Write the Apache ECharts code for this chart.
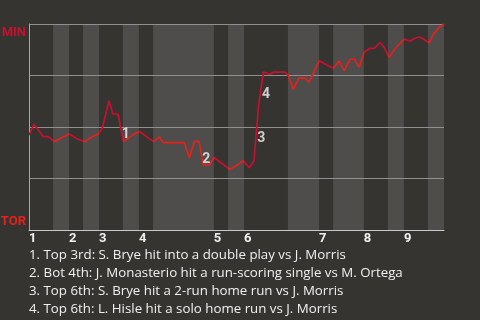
<!DOCTYPE html>
<html>
<head>
<meta charset="utf-8">
<script src="https://cdn.jsdelivr.net/npm/echarts@6/dist/echarts.min.js"></script>
<style>
  html, body { margin: 0; padding: 0; background: #363430; }
  #chart { width: 480px; height: 320px; }
</style>
</head>
<body>
<div id="chart"></div>
<script>
// Where each half-inning begins, in plays from the first pitch (top 1st, bot 1st, ... bot 9th)
const halfInningStarts = [0, 5.1, 8.5, 11.45, 14.85, 19.9, 23.3, 26.3, 39.2, 42.2, 45.6, 54.9, 61.5, 64.5, 71.0, 76.1, 79.5, 84.6];
const gameEnd = 88;
const inningLabels = ['1', '2', '3', '4', '5', '6', '7', '8', '9'];

// Minnesota win probability (%) after each play
const playX = [0, 1.06, 3.03, 4.13, 5.36, 6.93, 8.59, 10.1, 11.77, 13.3, 14.63, 15.54, 16.96, 17.8, 18.87,
  20.04, 22.37, 23.54, 24.96, 26.4, 27.63, 28.48, 32.93, 33.99, 35.05, 36.05, 36.96, 38.27, 39.23, 40.86,
  42.51, 43.89, 45.44, 46.71, 47.71, 48.71, 49.72, 51.1, 51.8, 54.28, 54.92, 56.04, 57.25, 58.52, 59.37,
  61.56, 63.19, 64.52, 65.73, 66.86, 68.07, 68.98, 69.97, 71.1, 72.31, 73.22, 74.43, 75.28, 76.34, 77.82,
  79.58, 80.79, 81.85, 82.91, 83.97, 84.82, 85.77, 87.04, 88];
const minWinPct = [46.1, 51.3, 45.3, 45.3, 42.9, 44.8, 46.6, 44.4, 42.9, 45.1, 46.5, 49.3, 62.6, 56.3, 56.3,
  42.9, 46.8, 47.7, 45.3, 42.9, 45.1, 42.4, 42.4, 35.1, 43.0, 43.0, 31.6, 31.6, 35.3, 32.4,
  29.4, 31.2, 33.6, 30.2, 33.6, 61.2, 76.7, 75.6, 76.6, 76.6, 75.2, 68.3, 73.8, 73.8, 71.8,
  82.2, 80.1, 78.5, 82.0, 77.4, 83.0, 83.0, 79.0, 86.4, 88.2, 88.2, 91.0, 88.8, 83.8, 88.6,
  92.7, 91.6, 93.1, 93.7, 92.2, 90.8, 95.1, 98.5, 100];

// Key plays: index of the play's resulting point, and its caption
const keyPlayIndex = [15, 26, 35, 36];
const keyPlayText = [
  '1. Top 3rd: S. Brye hit into a double play vs J. Morris',
  '2. Bot 4th: J. Monasterio hit a run-scoring single vs M. Ortega',
  '3. Top 6th: S. Brye hit a 2-run home run vs J. Morris',
  '4. Top 6th: L. Hisle hit a solo home run vs J. Morris'
];

const teamEnds = { 0: 'TOR', 100: 'MIN' };

const MIN_RED = '#c6102e';
const TOR_RED = '#e4211c';
const BG = '#363430';
const BAND = '#4e4d4b';

const lineData = playX.map((x, i) => [x, minWinPct[i]]);

// Bottom halves get the lighter band
const bounds = halfInningStarts.concat([gameEnd]);
const bands = [];
for (let i = 1; i < halfInningStarts.length; i += 2) {
  bands.push([{ xAxis: bounds[i] }, { xAxis: bounds[i + 1] }]);
}

// Line colour follows the batting team of each half-inning
const pieces = halfInningStarts.map((s, i) => ({
  gte: s,
  lt: i + 1 < halfInningStarts.length ? bounds[i + 1] : gameEnd + 1,
  color: i % 2 === 0 ? MIN_RED : TOR_RED
}));

// Number each key play at the midpoint of the swing it caused
const noteData = keyPlayIndex.map((idx, n) => ({
  value: [(playX[idx - 1] + playX[idx]) / 2, (minWinPct[idx - 1] + minWinPct[idx]) / 2],
  label: { formatter: String(n + 1) }
}));

const topStarts = halfInningStarts.filter((_, i) => i % 2 === 0);

const teamFont = { fontWeight: 'bold', fontSize: 13, fontFamily: 'Roboto, "Noto Sans", sans-serif' };

const chart = echarts.init(document.getElementById('chart'), null, { renderer: 'canvas' });
chart.setOption({
  backgroundColor: BG,
  animation: false,
  title: {
    text: keyPlayText.join('\n'),
    left: 29,
    top: 246,
    padding: 0,
    textStyle: {
      color: '#f0f0f0',
      fontFamily: '"Open Sans", "Noto Sans", sans-serif',
      fontWeight: 'normal',
      fontSize: 13.3,
      lineHeight: 18
    }
  },
  grid: { left: 29, right: 36, top: 24, bottom: 90, outerBoundsMode: 'none' },
  visualMap: {
    show: false,
    type: 'piecewise',
    dimension: 0,
    seriesIndex: 1,
    pieces: pieces
  },
  xAxis: {
    type: 'value',
    min: 0,
    max: gameEnd,
    z: 3,
    axisLine: { show: true, lineStyle: { color: '#c9c9c9', width: 1 } },
    axisTick: { show: false },
    splitLine: { show: false },
    axisLabel: {
      customValues: topStarts,
      margin: 2,
      align: 'left',
      verticalAlign: 'top',
      color: '#f0f0f0',
      fontFamily: 'Roboto, "Noto Sans", sans-serif',
      fontWeight: 'bold',
      fontSize: 13,
      formatter: v => {
        const k = topStarts.indexOf(v);
        return k >= 0 ? inningLabels[k] : '';
      }
    }
  },
  yAxis: {
    type: 'value',
    min: 0,
    max: 100,
    interval: 25,
    z: 3,
    axisLine: { show: true, lineStyle: { color: '#a8a8a8', width: 1 } },
    axisTick: { show: false },
    splitLine: { show: true, lineStyle: { color: '#8f8f8f', width: 1 } },
    axisLabel: {
      margin: 3,
      verticalAlignMinLabel: 'bottom',
      verticalAlignMaxLabel: 'top',
      formatter: v => teamEnds[v] ? '{' + teamEnds[v] + '|' + teamEnds[v] + '}' : '',
      rich: {
        MIN: Object.assign({ color: MIN_RED, padding: [2, 0, 0, 0] }, teamFont),
        TOR: Object.assign({ color: TOR_RED, padding: [0, 0, 2, 0] }, teamFont)
      }
    }
  },
  series: [
    {
      name: 'bands',
      type: 'scatter',
      z: 1,
      data: [],
      silent: true,
      markArea: {
        silent: true,
        itemStyle: { color: BAND },
        data: bands
      }
    },
    {
      name: 'Minnesota win probability',
      type: 'line',
      z: 5,
      data: lineData,
      symbol: 'none',
      lineStyle: { width: 1.7 }
    },
    {
      name: 'key plays',
      type: 'scatter',
      z: 6,
      symbolSize: 0,
      data: noteData,
      label: {
        show: true,
        position: 'inside',
        offset: [5, 6.5],
        color: '#f2f2f2',
        fontFamily: 'Roboto, "Noto Sans", sans-serif',
        fontWeight: 'bold',
        fontSize: 14
      }
    }
  ]
});
</script>
</body>
</html>
